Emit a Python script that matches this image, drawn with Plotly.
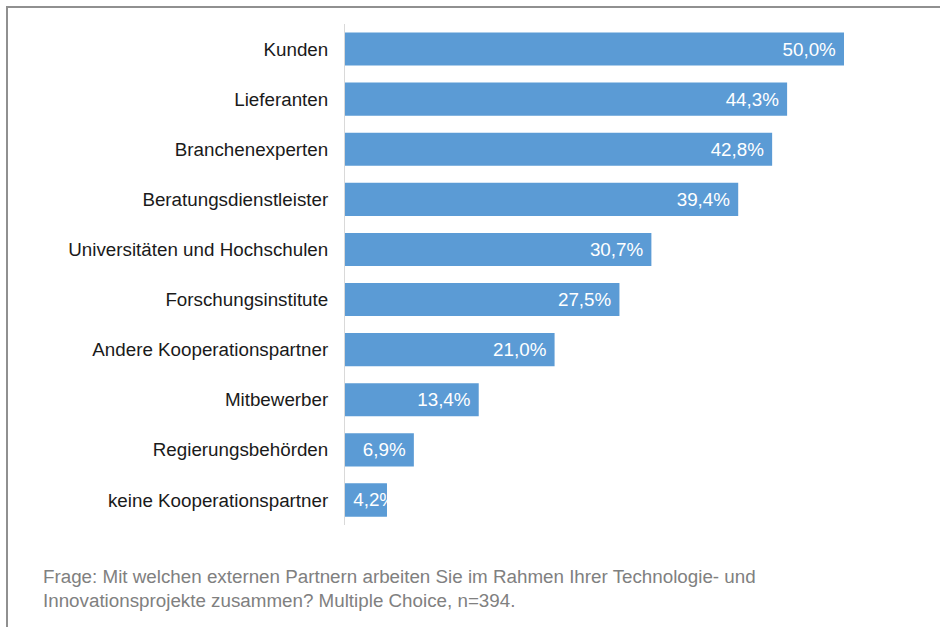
import plotly.graph_objects as go

categories = [
    "Kunden",
    "Lieferanten",
    "Branchenexperten",
    "Beratungsdienstleister",
    "Universitäten und Hochschulen",
    "Forschungsinstitute",
    "Andere Kooperationspartner",
    "Mitbewerber",
    "Regierungsbehörden",
    "keine Kooperationspartner",
]
values = [50.0, 44.3, 42.8, 39.4, 30.7, 27.5, 21.0, 13.4, 6.9, 4.2]
footnote_lines = [
    "Frage: Mit welchen externen Partnern arbeiten Sie im Rahmen Ihrer Technologie- und",
    "Innovationsprojekte zusammen? Multiple Choice, n=394.",
]

W, H = 940, 627
L, R, T, B = 345, 96, 24, 102
pw, ph = W - L - R, H - T - B
FONT = "Liberation Sans, Arial, sans-serif"
FS = 18.8


def px_x(p):
    return (p - L) / pw


def px_y(p):
    return (H - B - p) / ph


def fmt(v):
    return f"{v:.1f}".replace(".", ",") + "%"


# labels that fit inside are right-anchored; the narrow last bar's label starts at the bar base
main_text = [fmt(v) + "\u00a0" for v in values[:-1]] + [""]
small_text = ["\u00a0" + fmt(values[-1])]

fig = go.Figure()
fig.add_trace(
    go.Bar(
        x=values,
        y=categories,
        orientation="h",
        marker=dict(color="#5B9BD5", line=dict(width=0)),
        text=main_text,
        textposition="inside",
        insidetextanchor="end",
        constraintext="none",
        textfont=dict(family=FONT, size=FS, color="white"),
        hoverinfo="skip",
    )
)
fig.add_trace(
    go.Bar(
        x=values[-1:],
        y=categories[-1:],
        orientation="h",
        marker=dict(color="#5B9BD5", line=dict(width=0)),
        text=small_text,
        textposition="inside",
        insidetextanchor="start",
        constraintext="none",
        textfont=dict(family=FONT, size=FS, color="white"),
        hoverinfo="skip",
    )
)

fig.update_layout(
    width=W,
    height=H,
    margin=dict(l=L, r=R, t=T, b=B),
    paper_bgcolor="white",
    plot_bgcolor="white",
    barmode="overlay",
    bargap=0.34,
    showlegend=False,
    font=dict(family=FONT, size=FS, color="#1a1a1a"),
    xaxis=dict(range=[0, 50], visible=False, fixedrange=True),
    yaxis=dict(
        autorange="reversed",
        categoryorder="array",
        categoryarray=categories,
        showline=True,
        linecolor="#d9d9d9",
        linewidth=1,
        ticks="",
        showgrid=False,
        zeroline=False,
        ticklabelstandoff=12,
        tickfont=dict(size=FS, color="#1a1a1a"),
    ),
    shapes=[
        dict(type="line", xref="paper", yref="paper",
             x0=px_x(6), x1=px_x(W + 2), y0=px_y(7), y1=px_y(7),
             line=dict(color="#909090", width=2)),
        dict(type="line", xref="paper", yref="paper",
             x0=px_x(7), x1=px_x(7), y0=px_y(6), y1=px_y(H + 2),
             line=dict(color="#909090", width=2)),
    ],
    annotations=[
        dict(
            text="<br>".join(footnote_lines),
            xref="paper", yref="paper",
            x=px_x(41), y=px_y(564),
            xanchor="left", yanchor="top",
            align="left",
            showarrow=False,
            font=dict(size=18.8, color="#808080", family=FONT),
        )
    ],
)

fig.write_html(
    "out.html",
    config={"displayModeBar": False},
    post_script="document.body.style.margin='0';document.body.style.overflow='hidden';",
)
